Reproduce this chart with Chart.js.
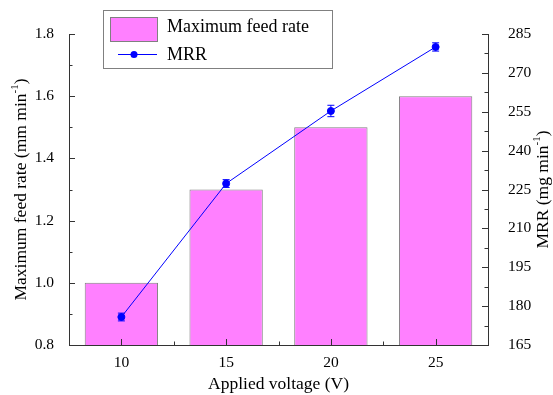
<!DOCTYPE html>
<html lang="en">
<head>
    <meta charset="UTF-8">
    <title>Maximum feed rate and MRR vs applied voltage</title>
    <script src="https://cdn.jsdelivr.net/npm/chart.js"></script>
    <style>
        body {
            margin: 0;
            padding: 0;
            background-color: #ffffff;
        }
        #chartBox {
            width: 553px;
            height: 395px;
        }
    </style>
</head>
<body>
    <div id="chartBox">
        <canvas id="feedChart" width="553" height="395"></canvas>
    </div>

    <script>
        // Data
        const voltage = [10, 15, 20, 25];
        const maxFeedRate = [1.0, 1.3, 1.5, 1.6];
        const mrr = [175.8, 227.3, 255.3, 280.0];
        const mrrError = [1.5, 1.5, 2.2, 1.6];

        const xTicks = [10, 15, 20, 25];
        const feedTicks = [0.8, 1.0, 1.2, 1.4, 1.6, 1.8];
        const mrrTicks = [165, 180, 195, 210, 225, 240, 255, 270, 285];

        const serif = '"Liberation Serif", "Times New Roman", serif';
        const axisColor = '#333333';

        // Draws inward major/minor ticks like the original plot
        const tickPlugin = {
            id: 'inwardTicks',
            afterDraw(chart) {
                const ctx = chart.ctx;
                const area = chart.chartArea;
                const x = chart.scales.x, y = chart.scales.y, y2 = chart.scales.y2;
                ctx.save();
                ctx.strokeStyle = axisColor;
                ctx.lineWidth = 1;
                ctx.beginPath();
                xTicks.forEach((v, i) => {
                    const px = Math.round(x.getPixelForValue(v)) + 0.5;
                    ctx.moveTo(px, area.bottom); ctx.lineTo(px, area.bottom - 6);
                    if (i < xTicks.length - 1) {
                        const mx = Math.round(x.getPixelForValue((v + xTicks[i + 1]) / 2)) + 0.5;
                        ctx.moveTo(mx, area.bottom); ctx.lineTo(mx, area.bottom - 3.5);
                    }
                });
                feedTicks.forEach((v, i) => {
                    const py = Math.round(y.getPixelForValue(v)) + 0.5;
                    ctx.moveTo(area.left, py); ctx.lineTo(area.left + 6, py);
                    if (i < feedTicks.length - 1) {
                        const my = Math.round(y.getPixelForValue((v + feedTicks[i + 1]) / 2)) + 0.5;
                        ctx.moveTo(area.left, my); ctx.lineTo(area.left + 3.5, my);
                    }
                });
                mrrTicks.forEach((v, i) => {
                    const py = Math.round(y2.getPixelForValue(v)) + 0.5;
                    ctx.moveTo(area.right, py); ctx.lineTo(area.right - 6, py);
                    if (i < mrrTicks.length - 1) {
                        const my = Math.round(y2.getPixelForValue((v + mrrTicks[i + 1]) / 2)) + 0.5;
                        ctx.moveTo(area.right, my); ctx.lineTo(area.right - 3.5, my);
                    }
                });
                ctx.stroke();
                ctx.restore();
            }
        };

        // Error bars on the MRR points
        const errorBarPlugin = {
            id: 'errorBars',
            afterDatasetsDraw(chart) {
                const ctx = chart.ctx;
                const x = chart.scales.x, y2 = chart.scales.y2;
                ctx.save();
                ctx.strokeStyle = '#0000ff';
                ctx.lineWidth = 1;
                ctx.beginPath();
                voltage.forEach((v, i) => {
                    const px = x.getPixelForValue(v);
                    const top = y2.getPixelForValue(mrr[i] + mrrError[i]);
                    const bot = y2.getPixelForValue(mrr[i] - mrrError[i]);
                    ctx.moveTo(px, top); ctx.lineTo(px, bot);
                    ctx.moveTo(px - 3.5, top); ctx.lineTo(px + 3.5, top);
                    ctx.moveTo(px - 3.5, bot); ctx.lineTo(px + 3.5, bot);
                });
                ctx.stroke();
                ctx.restore();
            }
        };

        // Text with a "-1" superscript, drawn rotated
        function drawVerticalTitle(ctx, cx, cy, main, sup, tail) {
            const big = '17.5px ' + serif;
            const small = '11px ' + serif;
            ctx.save();
            ctx.translate(cx, cy);
            ctx.rotate(-Math.PI / 2);
            ctx.fillStyle = '#000000';
            ctx.textBaseline = 'middle';
            ctx.font = big;
            const w1 = ctx.measureText(main).width;
            const w3 = ctx.measureText(tail).width;
            ctx.font = small;
            const w2 = ctx.measureText(sup).width;
            let start = -(w1 + w2 + w3) / 2;
            ctx.font = big;
            ctx.fillText(main, start, 0);
            ctx.font = small;
            ctx.fillText(sup, start + w1, -6);
            ctx.font = big;
            ctx.fillText(tail, start + w1 + w2, 0);
            ctx.restore();
        }

        const titlePlugin = {
            id: 'axisTitles',
            afterDraw(chart) {
                const ctx = chart.ctx;
                const area = chart.chartArea;
                const cy = (area.top + area.bottom) / 2;
                drawVerticalTitle(ctx, 21, cy, 'Maximum feed rate (mm min', '-1', ')');
                drawVerticalTitle(ctx, 543, cy, 'MRR (mg min', '-1', ')');
                ctx.save();
                ctx.fillStyle = '#000000';
                ctx.font = '17.5px ' + serif;
                ctx.textAlign = 'center';
                ctx.textBaseline = 'middle';
                ctx.fillText('Applied voltage (V)', (area.left + area.right) / 2, 384);
                ctx.restore();
            }
        };

        // Boxed legend in the upper left
        const legendPlugin = {
            id: 'boxLegend',
            afterDraw(chart) {
                const ctx = chart.ctx;
                ctx.save();
                ctx.lineWidth = 1;
                ctx.strokeStyle = '#808080';
                ctx.strokeRect(103.5, 10.5, 229, 58);
                ctx.fillStyle = '#ff80ff';
                ctx.fillRect(110.5, 17.5, 47, 24);
                ctx.strokeRect(110.5, 17.5, 47, 24);
                ctx.strokeStyle = '#0000ff';
                ctx.beginPath();
                ctx.moveTo(118, 54.5); ctx.lineTo(157, 54.5);
                ctx.stroke();
                ctx.fillStyle = '#0000ff';
                ctx.beginPath();
                ctx.arc(134, 54.5, 3.5, 0, Math.PI * 2);
                ctx.fill();
                ctx.fillStyle = '#000000';
                ctx.font = '18px ' + serif;
                ctx.textBaseline = 'middle';
                ctx.fillText('Maximum feed rate', 167, 27);
                ctx.fillText('MRR', 167, 55);
                ctx.restore();
            }
        };

        const ctx = document.getElementById('feedChart').getContext('2d');
        new Chart(ctx, {
            data: {
                datasets: [
                    {
                        type: 'line',
                        label: 'MRR',
                        data: voltage.map((v, i) => ({ x: v, y: mrr[i] })),
                        yAxisID: 'y2',
                        borderColor: '#0000ff',
                        borderWidth: 1,
                        pointRadius: 3.5,
                        pointBackgroundColor: '#0000ff',
                        pointBorderColor: '#0000ff',
                        tension: 0,
                        order: 0
                    },
                    {
                        type: 'bar',
                        label: 'Maximum feed rate',
                        data: voltage.map((v, i) => ({ x: v, y: maxFeedRate[i] })),
                        yAxisID: 'y',
                        backgroundColor: '#ff80ff',
                        borderColor: '#808080',
                        borderWidth: 1,
                        barPercentage: 0.7,
                        categoryPercentage: 1.0,
                        order: 1
                    }
                ]
            },
            options: {
                responsive: false,
                animation: false,
                devicePixelRatio: 1,
                layout: { padding: { top: 34, left: 0, right: 0, bottom: 0 } },
                plugins: {
                    legend: { display: false },
                    tooltip: { enabled: false }
                },
                scales: {
                    x: {
                        type: 'linear',
                        offset: false,
                        min: 7.5,
                        max: 27.5,
                        afterBuildTicks: (scale) => { scale.ticks = xTicks.map(v => ({ value: v })); },
                        afterFit: (scale) => { scale.height = 50; },
                        grid: { display: false },
                        border: { display: true, color: axisColor, width: 1 },
                        ticks: {
                            padding: 1,
                            color: '#000000',
                            font: { family: serif, size: 15.5 },
                            callback: (v) => String(v)
                        }
                    },
                    y: {
                        position: 'left',
                        min: 0.8,
                        max: 1.8,
                        afterBuildTicks: (scale) => { scale.ticks = feedTicks.map(v => ({ value: v })); },
                        afterFit: (scale) => { scale.width = 69; },
                        grid: { display: false },
                        border: { display: true, color: axisColor, width: 1 },
                        ticks: {
                            padding: 7,
                            color: '#000000',
                            font: { family: serif, size: 15.5 },
                            callback: (v) => Number(v).toFixed(1)
                        }
                    },
                    y2: {
                        position: 'right',
                        min: 165,
                        max: 285,
                        afterBuildTicks: (scale) => { scale.ticks = mrrTicks.map(v => ({ value: v })); },
                        afterFit: (scale) => { scale.width = 65; },
                        grid: { display: false },
                        border: { display: true, color: axisColor, width: 1 },
                        ticks: {
                            padding: 12,
                            color: '#000000',
                            font: { family: serif, size: 15.5 },
                            callback: (v) => String(v)
                        }
                    }
                }
            },
            plugins: [tickPlugin, errorBarPlugin, titlePlugin, legendPlugin]
        });
    </script>
</body>
</html>
